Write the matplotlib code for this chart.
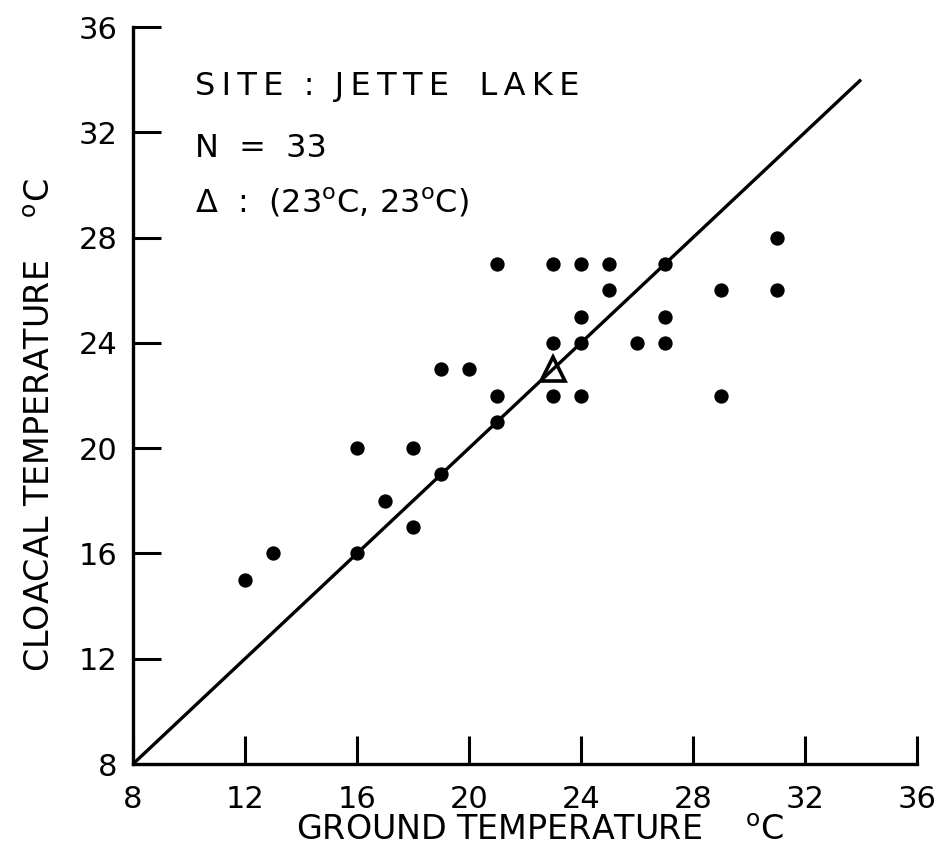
import matplotlib
matplotlib.use("Agg")
import matplotlib.pyplot as plt

plt.rcParams['font.family'] = ['DejaVu Sans']
plt.rcParams['mathtext.fontset'] = 'dejavusans'

ground = [12, 13, 16, 16, 17, 18, 18, 19, 19, 20, 21, 21, 21, 23, 23, 23,
          24, 24, 24, 24, 25, 25, 26, 27, 27, 27, 29, 29, 31, 31]
cloacal = [15, 16, 16, 20, 18, 20, 17, 19, 23, 23, 21, 22, 27, 27, 24, 22,
           27, 25, 24, 22, 27, 26, 24, 27, 25, 24, 26, 22, 28, 26]
mean_point = (23, 23)
line_x = [8, 34]
line_y = [8, 34]
ticks = [8, 12, 16, 20, 24, 28, 32, 36]

TS = '\u2009'  # thin space used for letter tracking


def track(s):
    return TS.join(s)


DEG = '$^{\\mathrm{o}}$'

fig = plt.figure(figsize=(9.48, 8.67), dpi=100)
ax = fig.add_axes([133/948, 1-764/867, (917-133)/948, (764-27)/867])

ax.plot(line_x, line_y, color='black', lw=2.4, solid_capstyle='butt')
ax.plot(ground, cloacal, 'o', color='black', ms=9.3, zorder=3)
ax.plot([mean_point[0]], [mean_point[1]], marker='^', ms=17, mfc='none',
        mec='black', mew=2.6, ls='none', zorder=4)

ax.set_xlim(8, 36)
ax.set_ylim(8, 36)
ax.set_xticks(ticks)
ax.set_yticks(ticks)
ax.set_xticklabels([str(t) for t in ticks])
ax.set_yticklabels([str(t) for t in ticks])
ax.tick_params(axis='both', direction='in', length=20, width=2.2,
               labelsize=22)
ax.tick_params(axis='x', pad=15)
ax.tick_params(axis='y', pad=11)
for s in ['top', 'right']:
    ax.spines[s].set_visible(False)
for s in ['left', 'bottom']:
    ax.spines[s].set_linewidth(2.4)

ax.set_xlabel('GROUND TEMPERATURE    ' + DEG + 'C', fontsize=24)
ax.xaxis.label.set_va('baseline')
ax.xaxis.set_label_coords(0.519, -0.1031)
ax.set_ylabel('CLOACAL TEMPERATURE    ' + DEG + 'C', fontsize=24)
ax.yaxis.label.set_va('baseline')
ax.yaxis.set_label_coords(-0.1059, 0.46)

x0 = 10.21
ax.text(x0, 33.42, track('SITE') + '  :  ' + track('JETTE') + '   ' + track('LAKE'),
        fontsize=23, va='baseline', ha='left')
ax.text(x0, 31.06, 'N  =  33', fontsize=23, va='baseline', ha='left')
ax.text(x0, 28.97, '$\\Delta$  :  (23' + DEG + 'C, 23' + DEG + 'C)',
        fontsize=23, va='baseline', ha='left')

fig.savefig('out.png', dpi=100)
